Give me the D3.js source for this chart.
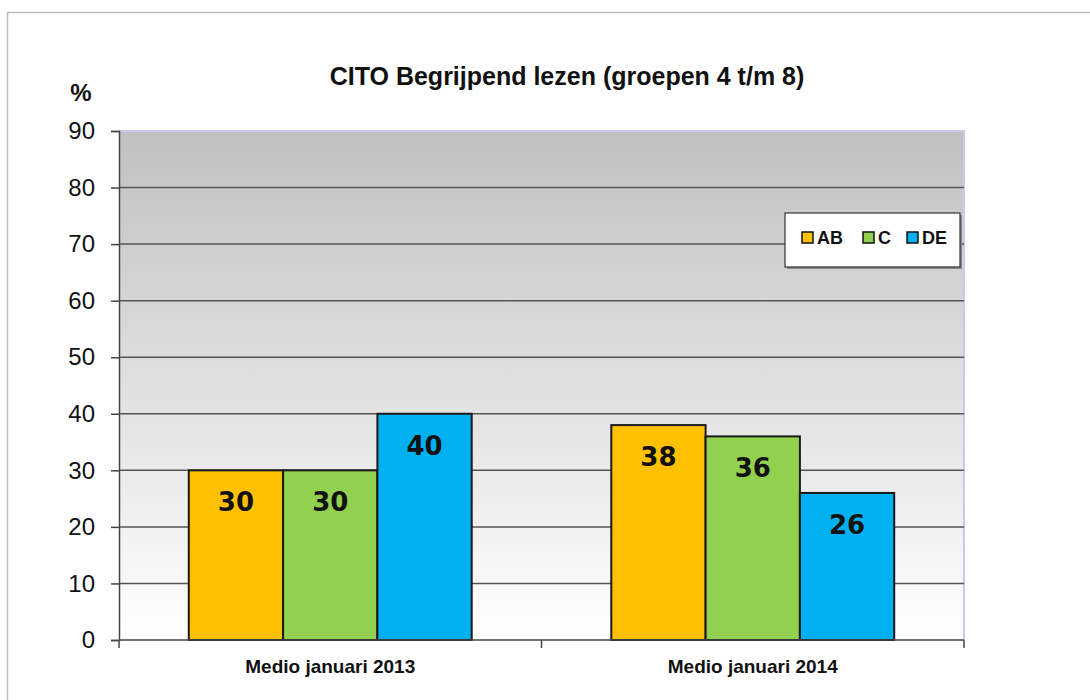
<!DOCTYPE html>
<html>
<head>
<meta charset="utf-8">
<script src="https://cdn.jsdelivr.net/npm/d3@7"></script>
<style>
  body { margin: 0; background: #fff; }
  svg { display: block; font-family: "Liberation Sans", Arial, sans-serif; }
</style>
</head>
<body>
<svg id="chart" width="1090" height="700"></svg>
<script>
// chart data
const categories = ['Medio januari 2013', 'Medio januari 2014']
const seriesNames = ['AB', 'C', 'DE']
const valuesAB = [30, 38]
const valuesC = [30, 36]
const valuesDE = [40, 26]
const yTicks = [0, 10, 20, 30, 40, 50, 60, 70, 80, 90]
const colors = ['#FFC000', '#92D050', '#00B0F0']

const seriesValues = [valuesAB, valuesC, valuesDE]

const svg = d3.select('#chart')

// outer frame
svg.append('rect')
  .attr('x', 7.5).attr('y', 12.5)
  .attr('width', 1100).attr('height', 700)
  .attr('fill', 'none')
  .attr('stroke', '#bdbdbd')
  .attr('stroke-width', 1.5)

const plotLeft = 119, plotRight = 964, plotTop = 131, plotBottom = 640

const x = d3.scaleBand()
  .domain(categories)
  .range([plotLeft, plotRight])
  .padding(0)

const xs = d3.scaleBand()
  .domain(seriesNames)
  .range([0, x.bandwidth()])
  .paddingInner(0)
  .paddingOuter(0.74)

const y = d3.scaleLinear()
  .domain([0, 90])
  .range([plotBottom, plotTop])

// background gradient
const defs = svg.append('defs')
const grad = defs.append('linearGradient')
  .attr('id', 'bg')
  .attr('x1', 0).attr('y1', 0).attr('x2', 0).attr('y2', 1)
grad.append('stop').attr('offset', '0%').attr('stop-color', '#c0c0c0')
grad.append('stop').attr('offset', '100%').attr('stop-color', '#ffffff')

svg.append('rect')
  .attr('x', plotLeft).attr('y', plotTop)
  .attr('width', plotRight - plotLeft).attr('height', plotBottom - plotTop)
  .attr('fill', 'url(#bg)')

// top and right border of the plot area
svg.append('path')
  .attr('d', `M${plotLeft},${plotTop}H${plotRight}V${plotBottom}`)
  .attr('fill', 'none')
  .attr('stroke', '#c8c8f4')
  .attr('stroke-width', 2)

// gridlines
svg.append('g')
  .selectAll('line')
  .data(yTicks.filter(d => d > 0 && d < 90))
  .join('line')
  .attr('x1', plotLeft).attr('x2', plotRight)
  .attr('y1', d => y(d)).attr('y2', d => y(d))
  .attr('stroke', '#555')
  .attr('stroke-width', 1.5)

// bars
const groups = svg.append('g')
  .selectAll('g')
  .data(seriesNames)
  .join('g')

groups.selectAll('rect')
  .data((s, i) => categories.map((c, j) => ({ cat: c, ser: s, val: seriesValues[i][j], col: colors[i] })))
  .join('rect')
  .attr('x', d => x(d.cat) + xs(d.ser))
  .attr('y', d => y(d.val))
  .attr('width', xs.bandwidth())
  .attr('height', d => y(0) - y(d.val))
  .attr('fill', d => d.col)
  .attr('stroke', '#1a1a1a')
  .attr('stroke-width', 2)

groups.selectAll('text')
  .data((s, i) => categories.map((c, j) => ({ cat: c, ser: s, val: seriesValues[i][j] })))
  .join('text')
  .attr('x', d => x(d.cat) + xs(d.ser) + xs.bandwidth() / 2)
  .attr('y', d => y(d.val) + 41)
  .attr('text-anchor', 'middle')
  .attr('font-family', '"Comic Sans MS", "DejaVu Sans", sans-serif')
  .attr('font-weight', 'bold')
  .attr('font-size', 26)
  .attr('fill', '#111')
  .text(d => d.val)

// y axis
const yAxis = svg.append('g')
  .attr('transform', `translate(${plotLeft},0)`)
  .call(d3.axisLeft(y).tickValues(yTicks).tickSize(8).tickPadding(16))
yAxis.select('.domain').attr('stroke', '#444').attr('stroke-width', 1.5)
yAxis.selectAll('.tick line').attr('stroke', '#444').attr('stroke-width', 1.5)
yAxis.selectAll('.tick text')
  .attr('font-family', '"Liberation Sans", Arial, sans-serif')
  .attr('font-size', 24)
  .attr('fill', '#111')

// x axis
svg.append('line')
  .attr('x1', plotLeft).attr('x2', plotRight)
  .attr('y1', plotBottom).attr('y2', plotBottom)
  .attr('stroke', '#444').attr('stroke-width', 1.5)

const bounds = categories.map(c => x(c)).concat([x.range()[1]])
svg.append('g')
  .selectAll('line')
  .data(bounds)
  .join('line')
  .attr('x1', d => d).attr('x2', d => d)
  .attr('y1', plotBottom).attr('y2', plotBottom + 8)
  .attr('stroke', '#444').attr('stroke-width', 1.5)

svg.append('g')
  .selectAll('text')
  .data(categories)
  .join('text')
  .attr('x', d => x(d) + x.bandwidth() / 2)
  .attr('y', 673)
  .attr('text-anchor', 'middle')
  .attr('font-weight', 'bold')
  .attr('font-size', 19)
  .attr('fill', '#111')
  .text(d => d)

// title and unit
svg.append('text')
  .attr('x', 567).attr('y', 85)
  .attr('text-anchor', 'middle')
  .attr('font-weight', 'bold')
  .attr('font-size', 25)
  .attr('fill', '#111')
  .text('CITO Begrijpend lezen (groepen 4 t/m 8)')

svg.append('text')
  .attr('x', 81).attr('y', 101)
  .attr('text-anchor', 'middle')
  .attr('font-weight', 'bold')
  .attr('font-size', 24)
  .attr('fill', '#111')
  .text('%')

// legend
const legend = svg.append('g')
legend.append('rect')
  .attr('x', 787).attr('y', 215)
  .attr('width', 175).attr('height', 54)
  .attr('fill', '#8a8a8a')
legend.append('rect')
  .attr('x', 785).attr('y', 213)
  .attr('width', 175).attr('height', 54)
  .attr('fill', '#fff')
  .attr('stroke', '#333')
  .attr('stroke-width', 1.2)

const legendX = [802, 863, 907]
const items = legend.selectAll('g')
  .data(seriesNames)
  .join('g')
  .attr('transform', (d, i) => `translate(${legendX[i]},232)`)
items.append('rect')
  .attr('width', 11).attr('height', 11)
  .attr('fill', (d, i) => colors[i])
  .attr('stroke', '#111')
  .attr('stroke-width', 1.5)
items.append('text')
  .attr('x', 15).attr('y', 12)
  .attr('font-weight', 'bold')
  .attr('font-size', 18)
  .attr('fill', '#111')
  .text(d => d)
</script>
</body>
</html>
